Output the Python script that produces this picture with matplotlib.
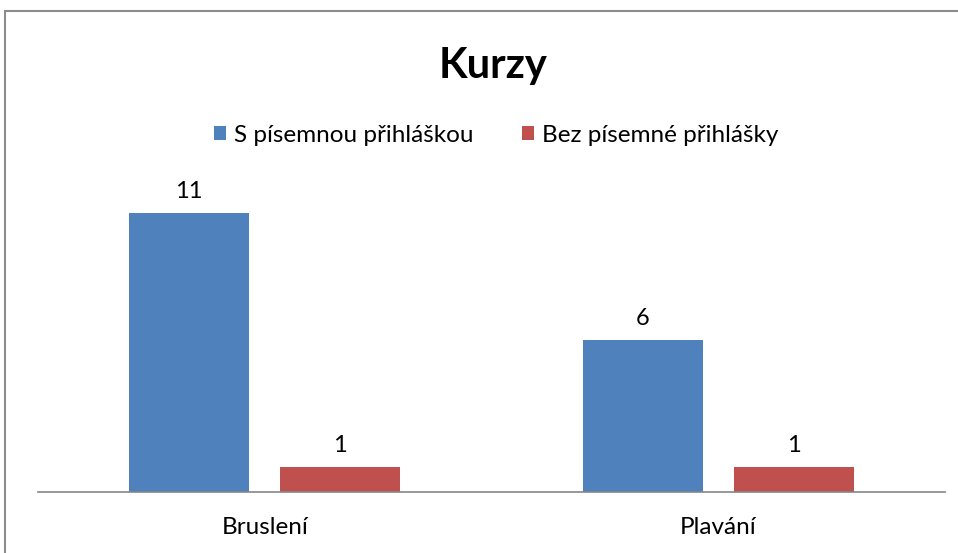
import numpy as np
import matplotlib
matplotlib.use("Agg")
import matplotlib.pyplot as plt
from matplotlib.patches import Rectangle

plt.rcParams['font.family'] = ['Lato', 'DejaVu Sans']

categories = ["Bruslení", "Plavání"]
series_names = ["S písemnou přihláškou", "Bez písemné přihlášky"]
s_prihlaskou = [11, 6]
bez_prihlasky = [1, 1]
colors = ["#4F81BD", "#C0504D"]

W, H = 958, 553
fig = plt.figure(figsize=(W / 100, H / 100), dpi=100)

# chart border (cut off on the right and bottom like the screenshot)
fig.patches.append(Rectangle((5 / W, -0.1), 1.1, 1 - 11 / H + 0.1,
                             transform=fig.transFigure, fill=False,
                             edgecolor="#8c8c8c", linewidth=1.5))

ax = fig.add_axes([38 / W, 61 / H, 907 / W, 304.2 / H])
x = np.arange(len(categories))
bw = 0.265
off = 0.1665
b1 = ax.bar(x - off, s_prihlaskou, bw, color=colors[0], label=series_names[0])
b2 = ax.bar(x + off, bez_prihlasky, bw, color=colors[1], label=series_names[1])

for bars in (b1, b2):
    ax.bar_label(bars, padding=8, fontsize=17)

ax.set_xlim(-0.5, len(categories) - 0.5)
ax.set_ylim(0, 12)
ax.set_xticks(x)
ax.set_xticklabels(categories, fontsize=17.5)
ax.tick_params(axis="x", length=0, pad=18)
ax.set_yticks([])
for s in ("top", "right", "left"):
    ax.spines[s].set_visible(False)
ax.spines["bottom"].set_color("#868686")
ax.spines["bottom"].set_linewidth(1.2)

fig.text(493 / W, 1 - 66 / H, "Kurzy", fontsize=30, fontweight="bold",
         ha="center", va="center")
fig.legend(loc="center", bbox_to_anchor=(496 / W, 1 - 135 / H), ncol=2,
           frameon=False, fontsize=17.5, handlelength=0.5, handleheight=0.5,
           handletextpad=0.33, columnspacing=2.0)

fig.savefig("out.png", dpi=100)
